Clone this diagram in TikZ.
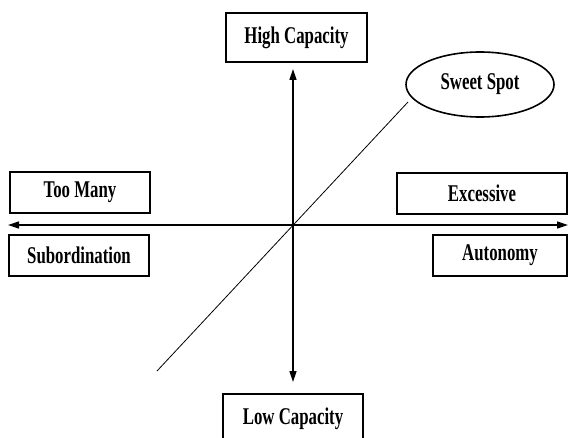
\documentclass[tikz,border=0pt]{standalone}
\usepackage{fontspec}
\setmainfont{Liberation Serif}
\newfontfamily\boxfont[FakeStretch=0.7]{Liberation Serif}
\usetikzlibrary{arrows.meta}
\begin{document}
\begin{tikzpicture}[x=1pt,y=1pt,
  lab/.style={font=\boxfont\bfseries\fontsize{24}{26}\selectfont},
  box/.style={draw,line width=1.6pt,rectangle,inner sep=0pt,lab},
  axis/.style={line width=1.6pt,-{Triangle[length=11pt,width=7pt]}},
]
\useasboundingbox (0,0) rectangle (569,437);
\clip (0,0) rectangle (569,437);
\node[box,minimum width=141pt,minimum height=49pt] (high) at (296.5,399.5) {High Capacity};
\node[box,minimum width=140pt,minimum height=49pt] (low) at (293,18.5) {Low Capacity};
\node[box,minimum width=140pt,minimum height=41pt] (toomany) at (80,244.5) {Too Many};
\node[box,minimum width=140pt,minimum height=41pt] (subord) at (79,181.5) {Subordination};
\node[box,minimum width=170pt,minimum height=41pt] (excess) at (482,243.5) {Excessive};
\node[box,minimum width=134pt,minimum height=41pt] (auton) at (500,181.5) {Autonomy};
\draw[line width=1.6pt] (480,352.5) ellipse [x radius=74, y radius=32.5];
\node[lab] (sweet) at (480,352.5) {Sweet Spot};
\coordinate (vtop) at (293,368);
\coordinate (vbot) at (293,55);
\coordinate (hleft) at (8,212);
\coordinate (hright) at (568,212);
\coordinate (dlow) at (157,66);
\coordinate (dhigh) at (408,335);
\coordinate (c) at (293,212);
\draw[axis] (c) -- (vtop);
\draw[axis] (c) -- (vbot);
\draw[axis] (c) -- (hleft);
\draw[axis] (c) -- (hright);
\draw[line width=0.8pt] (dlow) -- (dhigh);
\end{tikzpicture}
\end{document}
